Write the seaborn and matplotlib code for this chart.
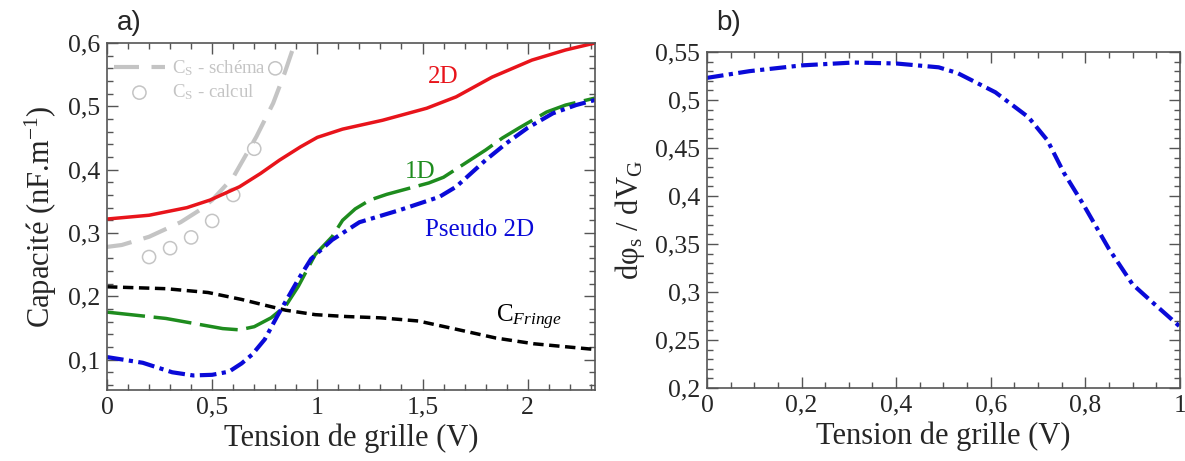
import numpy as np
import pandas as pd
import matplotlib
matplotlib.use("Agg")
import matplotlib.pyplot as plt
import seaborn as sns
from matplotlib.ticker import MultipleLocator, FuncFormatter

# panel a) - capacite vs tension de grille
v_2d = [0, 0.2, 0.38, 0.49, 0.63, 0.73, 0.82, 0.92, 1.0, 1.12, 1.31, 1.52, 1.66, 1.83, 2.02, 2.18, 2.32]
c_2d = [0.322, 0.328, 0.340, 0.352, 0.373, 0.394, 0.415, 0.436, 0.451, 0.464, 0.478, 0.497, 0.515, 0.546, 0.573, 0.589, 0.600]

v_1d = [0, 0.28, 0.55, 0.63, 0.70, 0.78, 0.85, 0.91, 0.99, 1.07, 1.12, 1.18, 1.25, 1.33, 1.53, 1.60, 1.80, 1.88, 1.96, 2.09, 2.18, 2.32]
c_1d = [0.175, 0.165, 0.149, 0.147, 0.152, 0.166, 0.185, 0.216, 0.266, 0.294, 0.320, 0.338, 0.352, 0.361, 0.379, 0.388, 0.431, 0.450, 0.466, 0.491, 0.502, 0.513]

v_p2d = [0, 0.17, 0.31, 0.41, 0.5, 0.58, 0.64, 0.69, 0.75, 0.81, 0.86, 0.91, 0.97, 1.07, 1.20, 1.39, 1.58, 1.66, 1.80, 1.90, 2.0, 2.12, 2.23, 2.32]
c_p2d = [0.104, 0.095, 0.080, 0.075, 0.076, 0.081, 0.094, 0.108, 0.132, 0.169, 0.198, 0.227, 0.259, 0.289, 0.317, 0.336, 0.357, 0.373, 0.415, 0.442, 0.466, 0.489, 0.502, 0.510]

v_fringe = [0, 0.28, 0.48, 0.64, 0.75, 0.85, 0.99, 1.14, 1.30, 1.48, 1.66, 1.85, 2.03, 2.32]
c_fringe = [0.215, 0.212, 0.206, 0.195, 0.186, 0.178, 0.171, 0.168, 0.166, 0.161, 0.148, 0.134, 0.125, 0.116]

v_schema = [0, 0.07, 0.2, 0.35, 0.44, 0.5, 0.6, 0.71, 0.79, 0.845, 0.893]
c_schema = [0.278, 0.281, 0.294, 0.317, 0.336, 0.352, 0.388, 0.452, 0.505, 0.553, 0.600]

v_calcul = [0.2, 0.3, 0.4, 0.5, 0.6, 0.7, 0.8]
c_calcul = [0.262, 0.276, 0.293, 0.319, 0.360, 0.433, 0.560]

# panel b) - dphi_s / dV_G
v_b = [0, 0.09, 0.2, 0.31, 0.4, 0.49, 0.53, 0.61, 0.68, 0.72, 0.755, 0.795, 0.85, 0.90, 0.945, 1.0]
dphi = [0.523, 0.530, 0.536, 0.539, 0.538, 0.534, 0.528, 0.508, 0.482, 0.458, 0.424, 0.392, 0.345, 0.308, 0.288, 0.264]

ticks_a_x = [0, 0.5, 1, 1.5, 2]
ticks_a_y = [0.1, 0.2, 0.3, 0.4, 0.5, 0.6]
ticks_b_x = [0, 0.2, 0.4, 0.6, 0.8, 1]
ticks_b_y = [0.2, 0.25, 0.3, 0.35, 0.4, 0.45, 0.5, 0.55]

RED = '#e8141b'
GREEN = '#1e8c1e'
BLUE = '#0a0ad8'
GREY = '#c4c4c4'
SERIF = 'Liberation Serif'

sns.set_theme(style='ticks')
plt.rcParams['font.family'] = [SERIF, 'DejaVu Serif']
plt.rcParams['mathtext.fontset'] = 'custom'
plt.rcParams['mathtext.rm'] = SERIF
plt.rcParams['mathtext.it'] = SERIF + ':italic'


def comma(x, pos):
    s = ('%.2f' % x).rstrip('0').rstrip('.')
    return s.replace('.', ',')


def style_axes(ax, xmin, ymin):
    ax.xaxis.set_minor_locator(MultipleLocator(xmin))
    ax.yaxis.set_minor_locator(MultipleLocator(ymin))
    ax.xaxis.set_major_formatter(FuncFormatter(comma))
    ax.yaxis.set_major_formatter(FuncFormatter(comma))
    ax.tick_params(which='both', direction='in', top=True, right=True, color='#555555')
    ax.tick_params(which='major', length=8, width=1, labelsize=18.5, pad=5,
                   labelfontfamily=SERIF)
    ax.tick_params(which='minor', length=4, width=1)
    for sp in ax.spines.values():
        sp.set_color('#555555')
        sp.set_linewidth(1.2)


fig = plt.figure(figsize=(11.85, 4.61), dpi=100)
ax1 = fig.add_axes([0.0903, 0.154, 0.4118, 0.7527])
ax2 = fig.add_axes([0.5966, 0.1584, 0.3990, 0.7289])

# --- panel a
sns.lineplot(x=v_schema, y=c_schema, ax=ax1, color=GREY, linewidth=3, sort=False,
             linestyle=(0, (6, 3)), label='C$_\\mathrm{S}$ - schéma')
sns.scatterplot(x=v_calcul, y=c_calcul, ax=ax1, s=90, facecolor='none', edgecolor=GREY,
                linewidth=1.1, label='C$_\\mathrm{S}$ - calcul')
sns.lineplot(x=v_fringe, y=c_fringe, ax=ax1, color='black', linewidth=2.5,
             linestyle=(0, (3, 1.6)))
sns.lineplot(x=v_1d, y=c_1d, ax=ax1, color=GREEN, linewidth=2.5,
             linestyle=(0, (11, 2.5)))
sns.lineplot(x=v_p2d, y=c_p2d, ax=ax1, color=BLUE, linewidth=3,
             linestyle=(0, (4, 1.3, 1, 1.3)))
sns.lineplot(x=v_2d, y=c_2d, ax=ax1, color=RED, linewidth=2.5)

ax1.set_xlim(0, 2.32)
ax1.set_ylim(0.052, 0.6)
ax1.set_xticks(ticks_a_x)
ax1.set_yticks(ticks_a_y)
style_axes(ax1, 0.1, 0.02)
ax1.set_xlabel('Tension de grille (V)', fontsize=22, labelpad=3)
ax1.set_ylabel('Capacité (nF.m$^{\\mathrm{-1}}$)', fontsize=22, labelpad=6)

leg = ax1.legend(loc='upper left', bbox_to_anchor=(-0.02, 1.005), frameon=False,
                 fontsize=13.5, handlelength=2.7, handletextpad=0.4, labelspacing=0.25)
for t in leg.get_texts():
    t.set_color(GREY)

ax1.text(1.60, 0.546, '2D', color=RED, fontsize=18, ha='center', va='center')
ax1.text(1.49, 0.396, '1D', color=GREEN, fontsize=18, ha='center', va='center')
ax1.text(1.77, 0.305, 'Pseudo 2D', color=BLUE, fontsize=18, ha='center', va='center')
ax1.text(1.85, 0.166, 'C$_{\\mathit{Fringe}}$', color='black', fontsize=18, ha='left', va='center')

# --- panel b
sns.lineplot(x=v_b, y=dphi, ax=ax2, color=BLUE, linewidth=3,
             linestyle=(0, (4, 1.3, 1, 1.3)))
ax2.set_xlim(0, 1)
ax2.set_ylim(0.2, 0.55)
ax2.set_xticks(ticks_b_x)
ax2.set_yticks(ticks_b_y)
style_axes(ax2, 0.05, 0.01)
ax2.set_xlabel('Tension de grille (V)', fontsize=22, labelpad=3)
ax2.set_ylabel('dφ$_\\mathrm{s}$ / dV$_\\mathrm{G}$', fontsize=22, labelpad=6)

fig.text(0.099, 0.95, 'a)', fontsize=20, family='Liberation Sans', va='center')
fig.text(0.604, 0.95, 'b)', fontsize=20, family='Liberation Sans', va='center')

fig.savefig('out.png', dpi=100)
